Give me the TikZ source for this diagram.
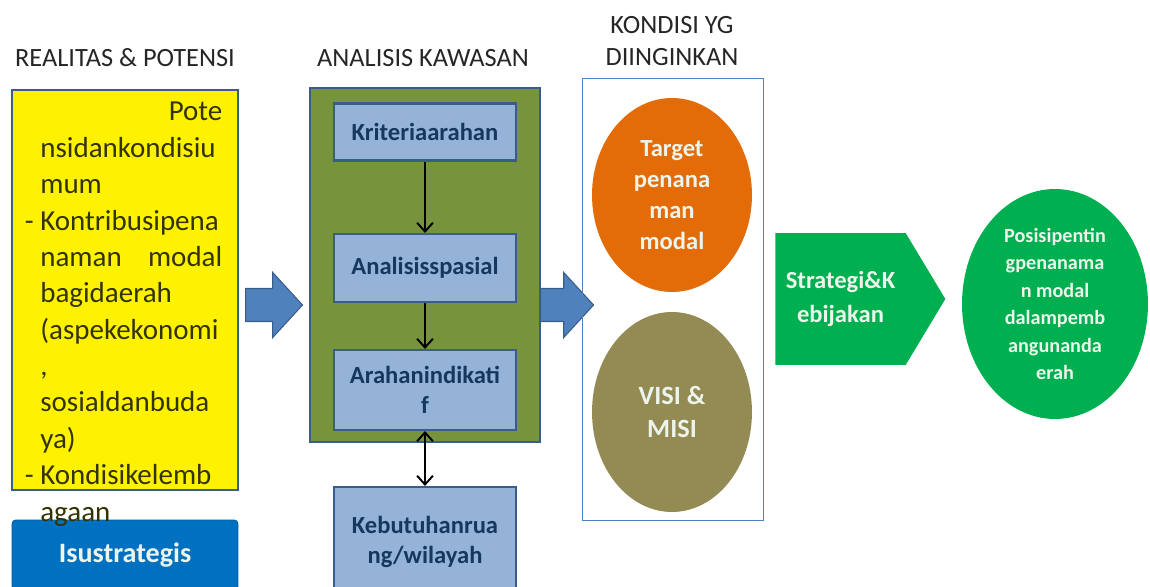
\documentclass[tikz,border=0pt]{standalone}
\usepackage{fontspec}
\setmainfont{Carlito}
\usepackage{xcolor}
\usetikzlibrary{shapes.geometric, shapes.arrows, shapes.symbols, arrows.meta, positioning}

\definecolor{navyline}{RGB}{56,93,138}
\definecolor{boxblue}{RGB}{149,179,215}
\definecolor{boxtext}{RGB}{23,55,94}
\definecolor{arrowblue}{RGB}{79,129,189}
\definecolor{olivebg}{RGB}{119,147,60}
\definecolor{isublue}{RGB}{0,112,192}
\definecolor{targetorange}{RGB}{227,108,9}
\definecolor{visiolive}{RGB}{148,138,84}
\definecolor{stratgreen}{RGB}{0,176,80}
\definecolor{yellowtext}{RGB}{51,51,0}
\definecolor{lighttext}{RGB}{235,245,235}

\tikzset{
  title/.style={font=\fontsize{15}{18}\selectfont, text=black!85, align=center},
  bluebox/.style={draw=navyline, line width=1.2pt, fill=boxblue, minimum width=3.64cm,
    text=boxtext, font=\bfseries\fontsize{14}{17}\selectfont, align=center},
  blockarrow/.style={single arrow, draw=navyline, fill=arrowblue, line width=0.6pt,
    inner xsep=0pt, inner ysep=0.32cm, single arrow head extend=0.32cm,
    single arrow tip angle=95, anchor=west},
  bubble/.style={ellipse, align=center, text=lighttext, inner sep=0pt},
  flow/.style={-{Straight Barb[length=5pt,width=9pt]}, line width=1.1pt},
  twoway/.style={{Straight Barb[length=5pt,width=9pt]}-{Straight Barb[length=5pt,width=9pt]}, line width=1.1pt},
}

\begin{document}
\begin{tikzpicture}[x=0.02cm, y=-0.02cm]
  \useasboundingbox (0,0) rectangle (1150,587);

  % column titles
  \node[title] (t1) at (125,58) {REALITAS \& POTENSI};
  \node[title] (t2) at (423,58) {ANALISIS KAWASAN};
  \node[title] (t3) at (672,41) {KONDISI YG\\DIINGINKAN};

  % realitas & potensi
  \node[draw=navyline, line width=1.2pt, fill=yellow, minimum width=4.52cm, minimum height=8cm] (real) at (125,290) {};
  \node[draw=isublue!80!black, fill=isublue, rounded corners=2pt, minimum width=4.52cm, minimum height=1.4cm,
    text=lighttext, font=\bfseries\fontsize{16}{19}\selectfont] (isu) at (125,555) {Isustrategis};
  \node[anchor=north west, align=left, inner sep=0pt, text=yellowtext,
    font=\fontsize{16.5}{20.7}\selectfont] (realtxt) at (40,102)
    {\makebox[3.64cm][r]{Pote}\\
     nsidankondisiu\\
     mum\\
     \llap{- }Kontribusipena\\
     \makebox[3.64cm][s]{naman\hfill modal}\\
     bagidaerah\\
     (aspekekonomi\\
     ,\\
     sosialdanbuda\\
     ya)\\
     \llap{- }Kondisikelemb\\
     agaan};

  \node[blockarrow, minimum height=1.14cm] (a1) at (245,305) {};

  % analisis kawasan
  \node[draw=navyline, line width=1.2pt, fill=olivebg, minimum width=4.6cm, minimum height=7.08cm] (kaw) at (425,265) {};
  \node[bluebox, minimum height=1.14cm] (krit) at (425,132) {Kriteriaarahan};
  \node[bluebox, minimum height=1.36cm] (spas) at (425,268) {Analisisspasial};
  \node[bluebox, minimum height=1.6cm] (arah) at (425,390) {Arahanindikati\\f};
  \node[bluebox, minimum height=2.2cm] (butuh) at (425,542) {Kebutuhanrua\\ng/wilayah};
  \draw[flow] (krit) -- (spas);
  \draw[flow] (spas) -- (arah);
  \draw[twoway] (arah) -- (butuh);

  \node[blockarrow, minimum height=1.06cm] (a2) at (540,305) {};

  % kondisi yg diinginkan
  \node[draw=arrowblue, line width=0.5pt, minimum width=3.62cm, minimum height=8.84cm] (kond) at (672.5,299) {};
  \node[bubble, fill=targetorange, minimum width=3.2cm, minimum height=3.88cm,
    font=\bfseries\fontsize{14}{17.6}\selectfont] (target) at (672,195) {Target\\penana\\man\\modal};
  \node[bubble, fill=visiolive, minimum width=3.2cm, minimum height=4cm,
    font=\bfseries\fontsize{15}{18.5}\selectfont] (visi) at (672,412) {VISI \&\\MISI};

  % strategi dan posisi
  \node[signal, signal to=east, signal pointer angle=118, fill=stratgreen, minimum width=3.4cm,
    minimum height=2.64cm, align=center, text=lighttext, font=\bfseries\fontsize{14}{19.3}\selectfont,
    anchor=west] (strat) at (775,299) {Strategi\&K\\ebijakan};
  \node[bubble, fill=stratgreen, minimum width=3.72cm, minimum height=4.6cm,
    font=\bfseries\fontsize{11.5}{15.6}\selectfont] (posisi) at (1055,304)
    {Posisipentin\\gpenanama\\n modal\\dalampemb\\angunanda\\erah};
\end{tikzpicture}
\end{document}
